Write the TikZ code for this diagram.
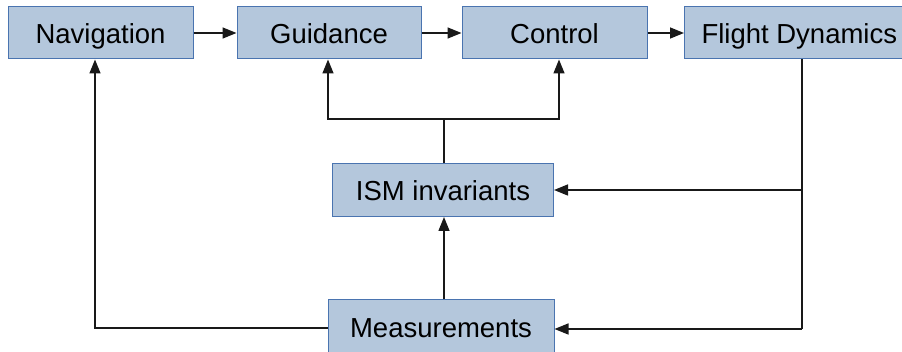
\documentclass[tikz,border=0pt]{standalone}
\usepackage{fontspec}
\setmainfont{Liberation Sans}
\usetikzlibrary{arrows.meta}
\definecolor{boxfill}{HTML}{B4C7DC}
\definecolor{boxline}{HTML}{4A74B0}
\begin{document}
\begin{tikzpicture}[x=1pt,y=-1pt,
  blk/.style={draw=boxline,fill=boxfill,line width=1pt,inner sep=0pt,text height=24pt,text depth=2pt,font=\fontsize{27.5}{32}\selectfont},
  conn/.style={line width=1.5pt,draw=black!90},
  arr/.style={conn,-{Triangle[length=14pt,width=11pt]}}]
\useasboundingbox (0,0) rectangle (902,352);
\begin{scope}
\clip (0,0) rectangle (902,352);
\node[blk,minimum width=185pt,minimum height=52pt] (nav) at (100.5,33) {Navigation};
\node[blk,minimum width=184pt,minimum height=52pt] (gui) at (329,33) {Guidance};
\node[blk,minimum width=185pt,minimum height=52pt] (ctl) at (554.5,33) {Control};
\node[blk,minimum height=52pt,inner xsep=17pt,anchor=west] (fd) at (684,33) {Flight Dynamics};
\node[blk,minimum width=221pt,minimum height=53pt] (ism) at (443,190) {ISM invariants};
\node[blk,minimum width=226pt,minimum height=54pt] (mea) at (441,327) {Measurements};
\end{scope}
\coordinate (fdd) at (802,59);
\coordinate (j1) at (802,190);
\coordinate (j2) at (802,329);
\coordinate (top) at (444,119);
\coordinate (lg) at (328,119);
\coordinate (lc) at (559,119);
\coordinate (nl) at (95,328);
\draw[arr] (nav.east) -- (gui.west);
\draw[arr] (gui.east) -- (ctl.west);
\draw[arr] (ctl.east) -- (fd.west);
\draw[conn] (ism.north -| top) -- (top);
\draw[arr] (lc) -- (lg) -- (lg |- gui.south);
\draw[arr] (lg) -- (lc) -- (lc |- ctl.south);
\draw[conn] (fdd) -- (j2);
\draw[arr] (j1) -- (j1 -| ism.east);
\draw[arr] (j2) -- (j2 -| mea.east);
\draw[arr] (mea.north -| top) -- (ism.south -| top);
\draw[arr] (nl -| mea.west) -- (nl) -- (nl |- nav.south);
\end{tikzpicture}
\end{document}
